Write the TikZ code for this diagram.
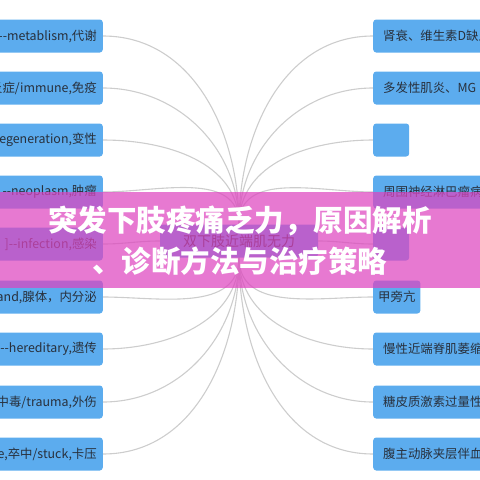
\documentclass[tikz,border=0pt]{standalone}
\usepackage{fontspec}
\setmainfont{Noto Sans CJK SC}
\usetikzlibrary{backgrounds}
\definecolor{boxblue}{RGB}{92,172,238}
\definecolor{linegray}{RGB}{205,205,205}
\definecolor{bannerpink}{RGB}{222,69,191}
\definecolor{boxtext}{RGB}{40,48,60}

\begin{document}
\begin{tikzpicture}[x=1pt, y=-1pt]
  % lb = left branch, rb = right branch, stub = empty right branch
  \tikzstyle{every node}=[font=\fontsize{12.4}{15}\selectfont, text=boxtext]
  \tikzstyle{branch}=[fill=boxblue, rounded corners=3pt, minimum height=33pt, inner ysep=0pt]
  \tikzstyle{lb}=[branch, anchor=east, text width=124pt, inner xsep=6pt, align=right]
  \tikzstyle{rb}=[branch, anchor=west, text width=124pt, inner xsep=10pt, align=left]
  \tikzstyle{stub}=[branch, anchor=west, minimum width=36pt]
  \tikzstyle{link}=[linegray, line width=1.1pt]
  \useasboundingbox (0,0) rectangle (480,480);
  \clip (0,0) rectangle (480,480);

  \node[branch, minimum width=158pt, font=\fontsize{14}{16}\selectfont] (C) at (239,241) {双下肢近端肌无力};

  \node[lb] (L1) at (103,36) {-{}-metablism,代谢};
  \node[lb] (L2) at (103,88) {炎症/immune,免疫};
  \node[lb] (L3) at (103,140) {egeneration,变性};
  \node[lb] (L4) at (103,192) {-{}-neoplasm,肿瘤};
  \node[lb] (L5) at (103,244) {]-{}-infection,感染};
  \node[lb] (L6) at (103,297) {and,腺体，内分泌};
  \node[lb] (L7) at (103,349) {-{}-hereditary,遗传};
  \node[lb] (L8) at (103,402) {中毒/trauma,外伤};
  \node[lb] (L9) at (103,454) {e,卒中/stuck,卡压};

  \node[rb] (R1) at (373,36) {肾衰、维生素D缺乏};
  \node[rb] (R2) at (373,88) {多发性肌炎、MG};
  \node[stub] (R3) at (373,140) {};
  \node[rb] (R4) at (373,192) {周围神经淋巴瘤病};
  \node[stub] (R5) at (373,244) {};
  \node[branch, anchor=west, inner xsep=5pt] (R6) at (373,297) {甲旁亢};
  \node[rb] (R7) at (373,349) {慢性近端脊肌萎缩症};
  \node[rb] (R8) at (373,402) {糖皮质激素过量性肌病};
  \node[rb] (R9) at (373,454) {腹主动脉夹层伴血栓};

  \begin{scope}[on background layer]
    \draw[link] (C) to[out=90, in=0] (L1);
    \draw[link] (C) to[out=90, in=0] (L2);
    \draw[link] (C) to[out=90, in=0] (L3);
    \draw[link] (C) to[out=90, in=0] (L4);
    \draw[link] (C) to[out=180, in=0] (L5);
    \draw[link] (C) to[out=-90, in=0] (L6);
    \draw[link] (C) to[out=-90, in=0] (L7);
    \draw[link] (C) to[out=-90, in=0] (L8);
    \draw[link] (C) to[out=-90, in=0] (L9);
    \draw[link] (C) to[out=90, in=180] (R1);
    \draw[link] (C) to[out=90, in=180] (R2);
    \draw[link] (C) to[out=90, in=180] (R3);
    \draw[link] (C) to[out=90, in=180] (R4);
    \draw[link] (C) to[out=0, in=180] (R5);
    \draw[link] (C) to[out=-90, in=180] (R6);
    \draw[link] (C) to[out=-90, in=180] (R7);
    \draw[link] (C) to[out=-90, in=180] (R8);
    \draw[link] (C) to[out=-90, in=180] (R9);
  \end{scope}

  % title banner over the map
  \fill[bannerpink, opacity=0.72] (0,192) rectangle (480,288);
  \node[text=white, font=\bfseries\fontsize{29.5}{41}\selectfont, align=center] (title) at (240,241)
    {突发下肢疼痛乏力，原因解析\\、诊断方法与治疗策略};
\end{tikzpicture}
\end{document}
